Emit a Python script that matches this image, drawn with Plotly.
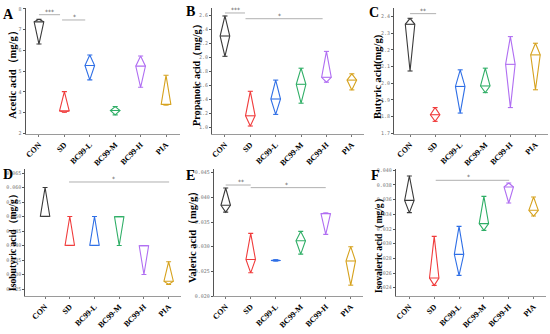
import plotly.graph_objects as go

categories = ["CON", "SD", "BC99-L", "BC99-M", "BC99-H", "PIA"]
colors = ["#3a3a3a", "#f03c3c", "#2f6fe6", "#2fae66", "#b06ef2", "#d6a21e"]

acetic_max = [7.50, 4.01, 5.78, 3.29, 5.73, 4.80]
acetic_med = [7.38, 3.08, 5.27, 3.10, 5.24, 3.40]
acetic_min = [6.31, 3.02, 4.58, 2.89, 4.22, 3.37]

propanoic_max = [2.586, 1.51, 1.67, 1.84, 2.08, 1.76]
propanoic_med = [2.30, 1.16, 1.40, 1.61, 1.71, 1.67]
propanoic_min = [2.01, 1.014, 1.18, 1.34, 1.64, 1.53]

butyric_max = [2.39, 1.853, 2.08, 2.09, 2.28, 2.24]
butyric_med = [2.354, 1.81, 1.98, 1.983, 2.113, 2.17]
butyric_min = [2.073, 1.77, 1.82, 1.943, 1.853, 1.96]

isobutyric_max = [0.060, 0.050, 0.050, 0.050, 0.040, 0.0344]
isobutyric_med = [0.0501, 0.0401, 0.0401, 0.0499, 0.0399, 0.0277]
isobutyric_min = [0.050, 0.040, 0.040, 0.040, 0.030, 0.0266]

valeric_max = [0.0419, 0.0327, 0.02735, 0.0331, 0.0368, 0.0300]
valeric_med = [0.0384, 0.0274, 0.0272, 0.0312, 0.0367, 0.0271]
valeric_min = [0.0370, 0.0247, 0.0271, 0.0285, 0.0325, 0.0222]

isovaleric_max = [0.03923, 0.0310, 0.03236, 0.03645, 0.03827, 0.03636]
isovaleric_med = [0.0359, 0.02532, 0.02855, 0.03273, 0.03773, 0.03455]
isovaleric_min = [0.03423, 0.02432, 0.02568, 0.03182, 0.03555, 0.03377]

titles = ["Acetic acid（mg/g）", "Propanoic acid（mg/g）", "Butyric acid(mg/g)",
          "Isobutyric acid（mg/g）", "Valeric acid（mg/g）", "Isovaleric acid（mg/g）"]
letters = ["A", "B", "C", "D", "E", "F"]

# significance brackets: (panel, x0, x1, y, label, label_x)
sig_marks = [
    (0, 0.0, 0.83, 7.725, "***", 0.40),
    (0, 0.91, 1.82, 7.47, "*", 1.38),
    (1, 0.0, 0.79, 2.629, "***", 0.40),
    (1, 0.81, 3.85, 2.547, "*", 2.15),
    (2, 0.0, 1.04, 2.418, "**", 0.50),
    (3, 0.97, 5.02, 0.0619, "*", 2.75),
    (4, 0.0, 1.0, 0.0425, "**", 0.61),
    (4, 1.0, 4.0, 0.04197, "*", 2.45),
    (5, 1.06, 4.02, 0.03864, "*", 2.40),
]

W, H = 550, 334
# panel layout in pixels: (x_left, x_right, y_top, y_bottom)
panels_px = [
    (25.5, 180, 8, 134), (212, 364, 8, 134), (394, 548, 8, 134),
    (25.3, 181, 169, 296), (213.7, 363, 169, 296), (395.7, 546, 169, 296),
]
xranges = [[-0.53, 5.55], [-0.51, 5.48], [-0.64, 5.5], [-0.80, 5.5], [-0.48, 5.49], [-0.55, 5.5]]
yranges = [[1.966, 8.048], [0.9, 2.7], [1.694, 2.452], [0.02259, 0.06638], [0.020, 0.04575], [0.02287, 0.04018]]
ytickvals = [
    [2, 3, 4, 5, 6, 7, 8],
    [1.0, 1.2, 1.4, 1.6, 1.8, 2.0, 2.2, 2.4, 2.6],
    [1.7, 1.8, 1.9, 2.0, 2.1, 2.2, 2.3, 2.4],
    [0.025, 0.030, 0.035, 0.040, 0.045, 0.050, 0.055, 0.060, 0.065],
    [0.020, 0.025, 0.030, 0.035, 0.040, 0.045],
    [0.024, 0.026, 0.028, 0.030, 0.032, 0.034, 0.036, 0.038, 0.040],
]
ytickfmt = ["d", ".1f", ".1f", ".3f", ".3f", ".3f"]
title_pos = [(12.7, 72), (196, 73), (378, 77), (12, 240), (193, 235), (378, 243)]
title_size = [10.5, 10.2, 10.5, 9.6, 10.5, 9.6]
letter_pos = [(8, 14), (190.5, 11.5), (373.5, 12.5), (7.5, 174), (190.5, 175), (375, 175)]

data = [
    (acetic_max, acetic_med, acetic_min),
    (propanoic_max, propanoic_med, propanoic_min),
    (butyric_max, butyric_med, butyric_min),
    (isobutyric_max, isobutyric_med, isobutyric_min),
    (valeric_max, valeric_med, valeric_min),
    (isovaleric_max, isovaleric_med, isovaleric_min),
]

fig = go.Figure()
HW = 0.19   # half width of diamond
CW = 0.10   # half width of caps

for p, (mx, md, mn) in enumerate(data):
    xa = "x" if p == 0 else f"x{p+1}"
    ya = "y" if p == 0 else f"y{p+1}"
    for i, cat in enumerate(categories):
        c = colors[i]
        xs = [i, i - HW, i, i + HW, i, None, i - HW, i + HW, None,
              i - CW, i + CW, None, i - CW, i + CW]
        ys = [mx[i], md[i], mn[i], md[i], mx[i], None, md[i], md[i], None,
              mx[i], mx[i], None, mn[i], mn[i]]
        fig.add_trace(go.Scatter(x=xs, y=ys, mode="lines", xaxis=xa, yaxis=ya,
                                 line=dict(color=c, width=1.1), showlegend=False,
                                 hoverinfo="skip"))

# significance lines
for (p, x0, x1, yv, lab, lx) in sig_marks:
    xa = "x" if p == 0 else f"x{p+1}"
    ya = "y" if p == 0 else f"y{p+1}"
    fig.add_trace(go.Scatter(x=[x0, x1], y=[yv, yv], mode="lines", xaxis=xa, yaxis=ya,
                             line=dict(color="#b0b0b0", width=1), showlegend=False,
                             hoverinfo="skip"))
    fig.add_annotation(x=lx, y=yv, xref=xa, yref=ya, text=lab, showarrow=False,
                       xanchor="center", yanchor="bottom", yshift=-2,
                       font=dict(size=6, color="#555", family="DejaVu Sans"))

layout = dict(width=W, height=H, margin=dict(l=0, r=0, t=0, b=0, pad=0),
              paper_bgcolor="white", plot_bgcolor="white", showlegend=False)

for p in range(6):
    xl, xr, yt, yb = panels_px[p]
    sx = "" if p == 0 else str(p + 1)
    layout["xaxis" + sx] = dict(
        domain=[xl / W, xr / W], range=xranges[p], anchor="y" + sx,
        tickmode="array", tickvals=list(range(len(categories))), ticktext=categories,
        tickangle=-45, showline=True, linecolor="#9a9a9a", linewidth=1,
        ticks="outside", ticklen=2, tickcolor="#777", showgrid=False, zeroline=False,
        automargin=False,
        tickfont=dict(family="Liberation Serif", size=8, color="black", weight="bold"),
    )
    layout["yaxis" + sx] = dict(
        domain=[1 - yb / H, 1 - yt / H], range=yranges[p], anchor="x" + sx,
        tickmode="array", tickvals=ytickvals[p], tickformat=ytickfmt[p],
        showline=True, linecolor="#555", linewidth=1, ticks="outside", ticklen=2,
        tickcolor="#555", showgrid=False, zeroline=False, automargin=False,
        tickfont=dict(family="DejaVu Sans Mono", size=5, color="#777"),
    )

fig.update_layout(**layout)

for p in range(6):
    tx, ty = title_pos[p]
    fig.add_annotation(x=tx / W, y=1 - ty / H, xref="paper", yref="paper",
                       text=titles[p], textangle=-90, showarrow=False,
                       xanchor="center", yanchor="middle",
                       font=dict(family="Liberation Serif", size=title_size[p],
                                 color="black", weight="bold"))
    lx, ly = letter_pos[p]
    fig.add_annotation(x=lx / W, y=1 - ly / H, xref="paper", yref="paper",
                       text=letters[p], showarrow=False,
                       xanchor="center", yanchor="middle",
                       font=dict(family="Liberation Serif", size=14, color="black", weight="bold"))

fig.write_html("out.html", config={"displayModeBar": False},
               post_script="document.body.style.margin='0';document.body.style.overflow='hidden';")
